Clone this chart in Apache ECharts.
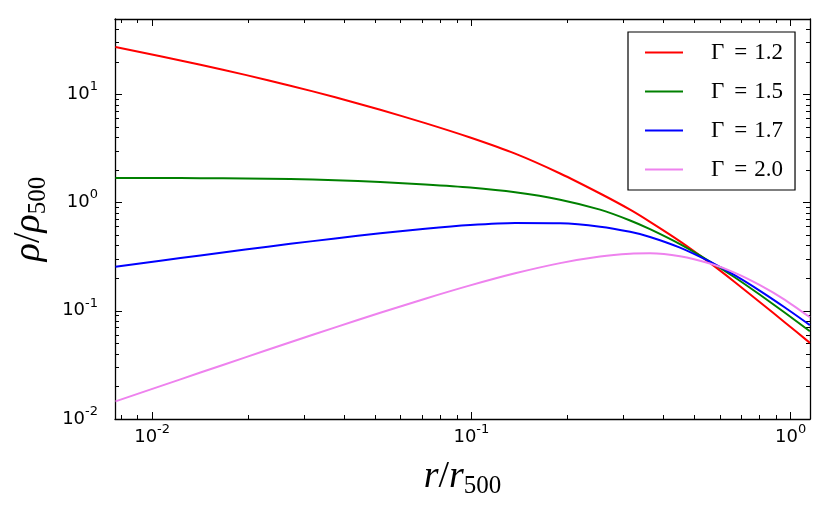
<!DOCTYPE html>
<html>
<head>
<meta charset="utf-8">
<script src="https://cdn.jsdelivr.net/npm/echarts@6/dist/echarts.min.js"></script>
<style>
  html, body { margin: 0; padding: 0; background: #fff; }
  #chart { width: 830px; height: 519px; }
</style>
</head>
<body>
<div id="chart"></div>
<script>
// ---- data ----
const rValues = [0.007677, 0.010617, 0.014163, 0.019588, 0.02709, 0.03747, 0.05183, 0.07168, 0.09913,
                 0.13712, 0.18967, 0.2530, 0.3141, 0.3627, 0.4503, 0.5589, 0.6694, 0.8016, 0.9598, 1.149];
const gamma12 = [27.40, 22.53, 18.77, 15.14, 12.03, 9.40, 7.21, 5.42, 3.99,
                 2.83, 1.857, 1.213, 0.860, 0.6635, 0.4383, 0.2769, 0.1836, 0.1201, 0.0781, 0.0505];
const gamma15 = [1.691, 1.687, 1.680, 1.669, 1.655, 1.610, 1.547, 1.469, 1.376,
                 1.245, 1.064, 0.860, 0.6835, 0.568, 0.4128, 0.2852, 0.2030, 0.1405, 0.0958, 0.0646];
const gamma17 = [0.2549, 0.2902, 0.3247, 0.3681, 0.4155, 0.4661, 0.5195, 0.5729, 0.6199,
                 0.6480, 0.6440, 0.5991, 0.5364, 0.4813, 0.3834, 0.2840, 0.2123, 0.1530, 0.1073, 0.0738];
const gamma20 = [0.01454, 0.02012, 0.02688, 0.03713, 0.05118, 0.07026, 0.0958, 0.1293, 0.1716,
                 0.2220, 0.2757, 0.3172, 0.3367, 0.3396, 0.3192, 0.2734, 0.2243, 0.1727, 0.1263, 0.0871];
const seriesNames = ['Γ = 1.2', 'Γ = 1.5', 'Γ = 1.7', 'Γ = 2.0'];
const seriesColors = ['#ff0000', '#008000', '#0000ff', '#ee82ee'];
const xMajorTicks = [0.01, 0.1, 1];
const xMinorTicks = [0.008, 0.009, 0.02, 0.03, 0.04, 0.05, 0.06, 0.07, 0.08, 0.09,
                     0.2, 0.3, 0.4, 0.5, 0.6, 0.7, 0.8, 0.9];
const yMajorTicks = [0.01, 0.1, 1, 10];
const yMinorTicks = [0.02, 0.03, 0.04, 0.05, 0.06, 0.07, 0.08, 0.09,
                     0.2, 0.3, 0.4, 0.5, 0.6, 0.7, 0.8, 0.9,
                     2, 3, 4, 5, 6, 7, 8, 9, 20, 30, 40];
const xRange = [0.00765, 1.15];
const yRange = [0.01, 49.7];

const allSeries = [gamma12, gamma15, gamma17, gamma20];

const chart = echarts.init(document.getElementById('chart'), null, { renderer: 'canvas' });

const lineStyleAxis = { color: '#000', width: 1.3 };
const labelRich = {
  a: { fontFamily: 'DejaVu Sans', fontSize: 18, lineHeight: 28, color: '#000' },
  b: { fontFamily: 'DejaVu Sans', fontSize: 13, lineHeight: 12, verticalAlign: 'top', color: '#000' }
};
function powLabel(v) {
  const e = Math.round(Math.log10(v));
  return '{a|10}{b|' + e + '}';
}
const mathRich = {
  i: { fontFamily: 'Liberation Serif', fontStyle: 'italic', fontSize: 38, lineHeight: 44, color: '#000' },
  s: { fontFamily: 'Liberation Serif', fontSize: 38, lineHeight: 44, color: '#000' },
  sub: { fontFamily: 'Liberation Serif', fontSize: 25, lineHeight: 22, verticalAlign: 'bottom', color: '#000' }
};

function makeX(pos, major, showLabel, showLine, idx) {
  return {
    type: 'log', position: pos, min: xRange[0], max: xRange[1], gridIndex: 0,
    axisLine: { show: showLine, onZero: false, lineStyle: lineStyleAxis },
    axisTick: { show: true, inside: true, length: major ? 7 : 4,
                customValues: major ? xMajorTicks : xMinorTicks,
                lineStyle: { color: '#000', width: 1 } },
    axisLabel: { show: showLabel, customValues: xMajorTicks, margin: 4,
                 formatter: powLabel, rich: labelRich },
    splitLine: { show: false }, minorTick: { show: false }, minorSplitLine: { show: false },
    name: idx === 0 ? '{i|r}{s|/}{i|r}{sub|500}' : '',
    nameLocation: 'middle', nameGap: 36,
    nameTextStyle: { rich: mathRich }
  };
}
function makeY(pos, major, showLabel, showLine, idx) {
  return {
    type: 'log', position: pos, min: yRange[0], max: yRange[1], gridIndex: 0,
    axisLine: { show: showLine, onZero: false, lineStyle: lineStyleAxis },
    axisTick: { show: true, inside: true, length: major ? 7 : 4,
                customValues: major ? yMajorTicks : yMinorTicks,
                lineStyle: { color: '#000', width: 1 } },
    axisLabel: { show: showLabel, customValues: yMajorTicks, margin: 17,
                 formatter: powLabel, rich: labelRich },
    splitLine: { show: false }, minorTick: { show: false }, minorSplitLine: { show: false },
    name: idx === 0 ? '{i|ρ}{s|/}{i|ρ}{sub|500}' : '',
    nameLocation: 'middle', nameGap: 60, nameRotate: 90,
    nameTextStyle: { rich: mathRich }
  };
}

const option = {
  animation: false,
  backgroundColor: '#fff',
  grid: { left: 115, right: 20, top: 19, bottom: 100, containLabel: false },
  xAxis: [
    makeX('bottom', true, true, true, 0),
    makeX('bottom', false, false, false, 1),
    makeX('top', true, false, true, 2),
    makeX('top', false, false, false, 3)
  ],
  yAxis: [
    makeY('left', true, true, true, 0),
    makeY('left', false, false, false, 1),
    makeY('right', true, false, true, 2),
    makeY('right', false, false, false, 3)
  ],
  legend: {
    orient: 'vertical', left: 628, top: 32,
    padding: [9, 12, 9, 17], itemGap: 16,
    itemWidth: 38, itemHeight: 2, icon: 'rect',
    borderColor: '#000', borderWidth: 1.2, borderRadius: 0,
    backgroundColor: '#fff',
    formatter: function (name) {
      const parts = name.split(' = ');
      return '{g|' + parts[0] + '}{e|=}{n|' + parts[1] + '}';
    },
    textStyle: {
      fontFamily: 'Liberation Serif', fontSize: 22, lineHeight: 22, color: '#000',
      padding: [0, 0, 0, 23],
      rich: {
        g: { fontFamily: 'Liberation Serif', fontSize: 23, lineHeight: 22, color: '#000' },
        e: { fontFamily: 'Liberation Serif', fontSize: 23, lineHeight: 22, color: '#000', padding: [0, 7, 0, 10] },
        n: { fontFamily: 'Liberation Serif', fontSize: 23, lineHeight: 22, color: '#000' }
      }
    },
    data: seriesNames
  },
  series: allSeries.map((vals, k) => ({
    name: seriesNames[k], type: 'line', xAxisIndex: 0, yAxisIndex: 0,
    data: rValues.map((r, i) => [r, vals[i]]),
    smooth: 0.25, showSymbol: false, symbol: 'none',
    lineStyle: { color: seriesColors[k], width: 2 },
    itemStyle: { color: seriesColors[k] },
    clip: true
  }))
};
chart.setOption(option);
</script>
</body>
</html>
